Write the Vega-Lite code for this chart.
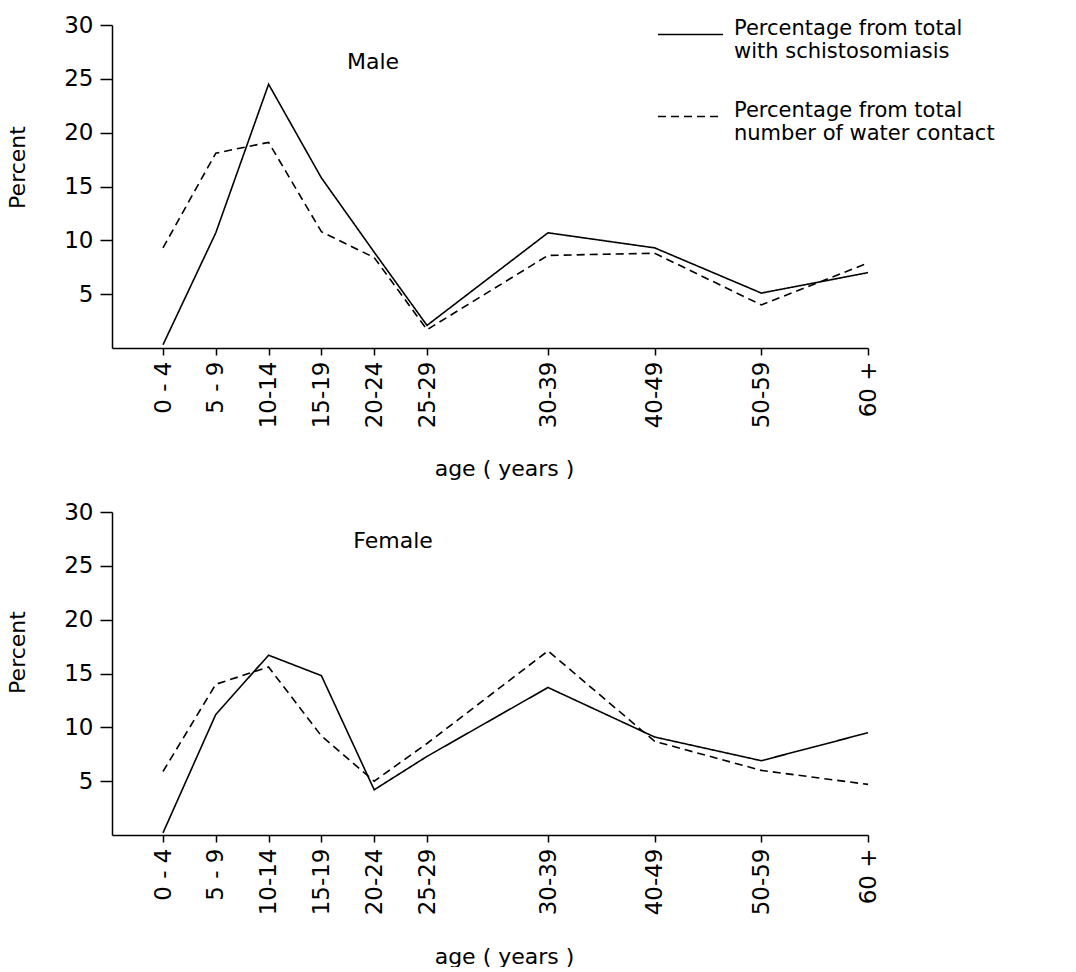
{
  "$schema": "https://vega.github.io/schema/vega-lite/v6.json",
  "background": "white",
  "padding": {"left": 6, "top": 1, "right": 0, "bottom": 0},
  "config": {
    "view": {"stroke": null},
    "font": "DejaVu Sans",
    "axis": {
      "grid": false,
      "domainColor": "black",
      "tickColor": "black",
      "labelColor": "black",
      "titleColor": "black",
      "domainWidth": 1.5,
      "tickWidth": 1.5,
      "labelFont": "DejaVu Sans",
      "titleFont": "DejaVu Sans",
      "titleFontWeight": "normal"
    },
    "legend": {
      "labelFont": "DejaVu Sans",
      "labelColor": "black"
    },
    "title": {"font": "DejaVu Sans", "color": "black"}
  },
  "datasets": {
    "rates": [
      {"sex": "Male", "age_group": "0 - 4", "age_start": 0, "series": "Percentage from total with schistosomiasis", "pct": 0.3},
      {"sex": "Male", "age_group": "5 - 9", "age_start": 5, "series": "Percentage from total with schistosomiasis", "pct": 10.7},
      {"sex": "Male", "age_group": "10-14", "age_start": 10, "series": "Percentage from total with schistosomiasis", "pct": 24.5},
      {"sex": "Male", "age_group": "15-19", "age_start": 15, "series": "Percentage from total with schistosomiasis", "pct": 15.8},
      {"sex": "Male", "age_group": "20-24", "age_start": 20, "series": "Percentage from total with schistosomiasis", "pct": 8.9},
      {"sex": "Male", "age_group": "25-29", "age_start": 25, "series": "Percentage from total with schistosomiasis", "pct": 2.1},
      {"sex": "Male", "age_group": "30-39", "age_start": 30, "series": "Percentage from total with schistosomiasis", "pct": 10.7},
      {"sex": "Male", "age_group": "40-49", "age_start": 40, "series": "Percentage from total with schistosomiasis", "pct": 9.3},
      {"sex": "Male", "age_group": "50-59", "age_start": 50, "series": "Percentage from total with schistosomiasis", "pct": 5.1},
      {"sex": "Male", "age_group": "60 +", "age_start": 60, "series": "Percentage from total with schistosomiasis", "pct": 7.0},
      {"sex": "Male", "age_group": "0 - 4", "age_start": 0, "series": "Percentage from total number of water contact", "pct": 9.3},
      {"sex": "Male", "age_group": "5 - 9", "age_start": 5, "series": "Percentage from total number of water contact", "pct": 18.1},
      {"sex": "Male", "age_group": "10-14", "age_start": 10, "series": "Percentage from total number of water contact", "pct": 19.1},
      {"sex": "Male", "age_group": "15-19", "age_start": 15, "series": "Percentage from total number of water contact", "pct": 10.8},
      {"sex": "Male", "age_group": "20-24", "age_start": 20, "series": "Percentage from total number of water contact", "pct": 8.4},
      {"sex": "Male", "age_group": "25-29", "age_start": 25, "series": "Percentage from total number of water contact", "pct": 1.7},
      {"sex": "Male", "age_group": "30-39", "age_start": 30, "series": "Percentage from total number of water contact", "pct": 8.6},
      {"sex": "Male", "age_group": "40-49", "age_start": 40, "series": "Percentage from total number of water contact", "pct": 8.8},
      {"sex": "Male", "age_group": "50-59", "age_start": 50, "series": "Percentage from total number of water contact", "pct": 4.0},
      {"sex": "Male", "age_group": "60 +", "age_start": 60, "series": "Percentage from total number of water contact", "pct": 7.9},
      {"sex": "Female", "age_group": "0 - 4", "age_start": 0, "series": "Percentage from total with schistosomiasis", "pct": 0.2},
      {"sex": "Female", "age_group": "5 - 9", "age_start": 5, "series": "Percentage from total with schistosomiasis", "pct": 11.2},
      {"sex": "Female", "age_group": "10-14", "age_start": 10, "series": "Percentage from total with schistosomiasis", "pct": 16.7},
      {"sex": "Female", "age_group": "15-19", "age_start": 15, "series": "Percentage from total with schistosomiasis", "pct": 14.8},
      {"sex": "Female", "age_group": "20-24", "age_start": 20, "series": "Percentage from total with schistosomiasis", "pct": 4.2},
      {"sex": "Female", "age_group": "25-29", "age_start": 25, "series": "Percentage from total with schistosomiasis", "pct": 7.3},
      {"sex": "Female", "age_group": "30-39", "age_start": 30, "series": "Percentage from total with schistosomiasis", "pct": 13.7},
      {"sex": "Female", "age_group": "40-49", "age_start": 40, "series": "Percentage from total with schistosomiasis", "pct": 9.1},
      {"sex": "Female", "age_group": "50-59", "age_start": 50, "series": "Percentage from total with schistosomiasis", "pct": 6.9},
      {"sex": "Female", "age_group": "60 +", "age_start": 60, "series": "Percentage from total with schistosomiasis", "pct": 9.5},
      {"sex": "Female", "age_group": "0 - 4", "age_start": 0, "series": "Percentage from total number of water contact", "pct": 5.9},
      {"sex": "Female", "age_group": "5 - 9", "age_start": 5, "series": "Percentage from total number of water contact", "pct": 14.0},
      {"sex": "Female", "age_group": "10-14", "age_start": 10, "series": "Percentage from total number of water contact", "pct": 15.6},
      {"sex": "Female", "age_group": "15-19", "age_start": 15, "series": "Percentage from total number of water contact", "pct": 9.2},
      {"sex": "Female", "age_group": "20-24", "age_start": 20, "series": "Percentage from total number of water contact", "pct": 5.0},
      {"sex": "Female", "age_group": "25-29", "age_start": 25, "series": "Percentage from total number of water contact", "pct": 8.5},
      {"sex": "Female", "age_group": "30-39", "age_start": 30, "series": "Percentage from total number of water contact", "pct": 17.1},
      {"sex": "Female", "age_group": "40-49", "age_start": 40, "series": "Percentage from total number of water contact", "pct": 8.7},
      {"sex": "Female", "age_group": "50-59", "age_start": 50, "series": "Percentage from total number of water contact", "pct": 6.0},
      {"sex": "Female", "age_group": "60 +", "age_start": 60, "series": "Percentage from total number of water contact", "pct": 4.7}
    ]
  },
  "spacing": 164,
  "bounds": "flush",
  "vconcat": [
    {
      "width": 756,
      "height": 323,
      "data": {"name": "rates"},
      "transform": [{"filter": "datum.sex == 'Male'"}],
      "title": {"text": "Male", "anchor": "middle", "frame": "group", "offset": 0, "baseline": "alphabetic", "dx": -117, "dy": 77, "fontSize": 22, "fontWeight": "normal"},
      "mark": {"type": "line", "color": "black", "strokeWidth": 1.6},
      "encoding": {
        "x": {
          "field": "age_start", "type": "quantitative",
          "scale": {"domain": [-5, 0, 25, 30, 60], "range": [0, 51, 315, 436, 756], "nice": false, "zero": false},
          "axis": {
            "values": [0, 5, 10, 15, 20, 25, 30, 40, 50, 60],
            "labelExpr": "datum.value == 0 ? '0 - 4' : datum.value == 5 ? '5 - 9' : datum.value >= 60 ? '60 +' : datum.value < 30 ? datum.value + '-' + (datum.value + 4) : datum.value + '-' + (datum.value + 9)",
            "labelAngle": 270, "labelAlign": "right", "labelBaseline": "middle",
            "labelFontSize": 23, "tickSize": 7, "labelPadding": 6,
            "title": "age ( years )", "titleFontSize": 22, "titleX": 392, "titleY": 127, "titleBaseline": "alphabetic", "titleAlign": "center"
          }
        },
        "y": {
          "field": "pct", "type": "quantitative",
          "scale": {"domain": [0, 30], "nice": false},
          "axis": {"values": [5, 10, 15, 20, 25, 30], "title": "Percent", "titleFontSize": 22, "titleY": 142, "labelFontSize": 23, "tickSize": 12, "labelPadding": 7, "titlePadding": 34}
        },
        "strokeDash": {
          "field": "series", "type": "nominal",
          "scale": {"domain": ["Percentage from total with schistosomiasis", "Percentage from total number of water contact"], "range": [[1, 0], [8, 5]]},
          "legend": {
            "title": null, "orient": "none", "legendX": 545, "legendY": -24,
            "symbolType": "stroke", "symbolSize": 4225, "symbolStrokeWidth": 1.6, "symbolStrokeColor": "black",
            "labelFontSize": 21, "labelOffset": 10, "labelLimit": 0, "labelBaseline": "alphabetic", "rowPadding": 21, "padding": 0,
            "labelExpr": "[substring(datum.label, 0, 21), substring(datum.label, 22)]"
          }
        }
      }
    },
    {
      "width": 756,
      "height": 323,
      "data": {"name": "rates"},
      "transform": [{"filter": "datum.sex == 'Female'"}],
      "title": {"text": "Female", "anchor": "middle", "frame": "group", "offset": 0, "baseline": "alphabetic", "dx": -97, "dy": 69, "fontSize": 22, "fontWeight": "normal"},
      "mark": {"type": "line", "color": "black", "strokeWidth": 1.6},
      "encoding": {
        "x": {
          "field": "age_start", "type": "quantitative",
          "scale": {"domain": [-5, 0, 25, 30, 60], "range": [0, 51, 315, 436, 756], "nice": false, "zero": false},
          "axis": {
            "values": [0, 5, 10, 15, 20, 25, 30, 40, 50, 60],
            "labelExpr": "datum.value == 0 ? '0 - 4' : datum.value == 5 ? '5 - 9' : datum.value >= 60 ? '60 +' : datum.value < 30 ? datum.value + '-' + (datum.value + 4) : datum.value + '-' + (datum.value + 9)",
            "labelAngle": 270, "labelAlign": "right", "labelBaseline": "middle",
            "labelFontSize": 23, "tickSize": 7, "labelPadding": 6,
            "title": "age ( years )", "titleFontSize": 22, "titleX": 392, "titleY": 128, "titleBaseline": "alphabetic", "titleAlign": "center"
          }
        },
        "y": {
          "field": "pct", "type": "quantitative",
          "scale": {"domain": [0, 30], "nice": false},
          "axis": {"values": [5, 10, 15, 20, 25, 30], "title": "Percent", "titleFontSize": 22, "titleY": 140, "labelFontSize": 23, "tickSize": 12, "labelPadding": 7, "titlePadding": 34}
        },
        "strokeDash": {
          "field": "series", "type": "nominal",
          "scale": {"domain": ["Percentage from total with schistosomiasis", "Percentage from total number of water contact"], "range": [[1, 0], [8, 5]]}
        }
      }
    }
  ]
}
